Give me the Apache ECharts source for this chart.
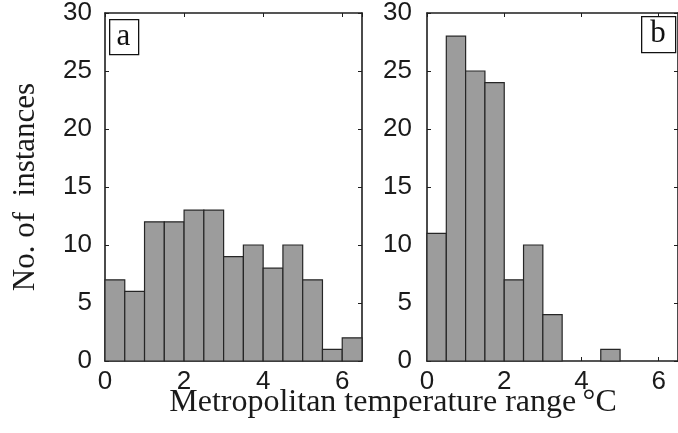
<!DOCTYPE html>
<html>
<head>
<meta charset="utf-8">
<script src="https://cdn.jsdelivr.net/npm/echarts@6/dist/echarts.min.js"></script>
<style>
  html, body { margin: 0; padding: 0; background: #fff; }
  #chart { width: 678px; height: 433px; }
</style>
</head>
<body>
<div id="chart"></div>
<script>
// Histogram bins (°C)
const binLeft  = [0, 0.5, 1.0, 1.5, 2.0, 2.5, 3.0, 3.5, 4.0, 4.5, 5.0, 5.5, 6.0];
const binRight = [0.5, 1.0, 1.5, 2.0, 2.5, 3.0, 3.5, 4.0, 4.5, 5.0, 5.5, 6.0, 6.5];
// Counts per bin
const countsA = [7, 6, 12, 12, 13, 13, 9, 10, 8, 10, 7, 1, 2];
const countsB = [11, 28, 25, 24, 7, 10, 4, 0, 0, 1, 0, 0, 0];
// Tick labels
const xTicks = [0, 2, 4, 6];
const yTicks = [0, 5, 10, 15, 20, 25, 30];
const panelLabels = ['a', 'b'];
const xTitle = 'Metropolitan temperature range\u2009°C';
const yTitle = 'No. of  instances';

const chart = echarts.init(document.getElementById('chart'), null, { renderer: 'canvas' });

const sansFont = '"Liberation Sans", Arial, Helvetica, sans-serif';
const serifFont = '"Liberation Serif", "Times New Roman", Times, serif';
const axisColor = '#1e1e1e';

function makeData(counts) {
  return counts.map((c, i) => [binLeft[i], binRight[i], c]);
}

function renderBar(params, api) {
  const v = api.value(2);
  if (!v) return null;
  const p0 = api.coord([api.value(0), v]);
  const p1 = api.coord([api.value(1), 0]);
  return {
    type: 'rect',
    shape: { x: p0[0], y: p0[1], width: p1[0] - p0[0], height: p1[1] - p0[1] },
    style: { fill: '#9c9c9c', stroke: '#262626', lineWidth: 1.2 }
  };
}

function xAxisDef(gridIndex, position, showLabels) {
  return {
    type: 'value', gridIndex, position, min: 0, max: 6.5, interval: 2,
    axisLine: { show: true, onZero: false, lineStyle: { color: axisColor, width: 1.6 } },
    axisTick: { show: true, inside: true, length: 4, lineStyle: { color: axisColor, width: 1 } },
    axisLabel: {
      show: showLabels, showMaxLabel: false, margin: 8,
      fontFamily: sansFont, fontSize: 26, color: '#1a1a1a',
      formatter: v => (xTicks.indexOf(v) >= 0 ? String(v) : '')
    },
    splitLine: { show: false }
  };
}

function yAxisDef(gridIndex, position, showLabels, margin) {
  return {
    type: 'value', gridIndex, position, min: 0, max: 30, interval: 5,
    axisLine: { show: true, onZero: false, lineStyle: { color: axisColor, width: 1.6 } },
    axisTick: { show: true, inside: true, length: 4, lineStyle: { color: axisColor, width: 1 } },
    axisLabel: {
      show: showLabels, margin: margin,
      fontFamily: sansFont, fontSize: 26, color: '#1a1a1a',
      formatter: v => (yTicks.indexOf(v) >= 0 ? String(v) : '')
    },
    splitLine: { show: false }
  };
}

const option = {
  backgroundColor: '#ffffff',
  animation: false,
  grid: [
    { left: 105, right: 316, top: 13, bottom: 72, containLabel: false },
    { left: 427, right: -5, top: 13, bottom: 72, containLabel: false }
  ],
  xAxis: [
    xAxisDef(0, 'bottom', true),
    xAxisDef(0, 'top', false),
    xAxisDef(1, 'bottom', true),
    xAxisDef(1, 'top', false)
  ],
  yAxis: [
    yAxisDef(0, 'left', true, 13),
    yAxisDef(0, 'right', false, 8),
    yAxisDef(1, 'left', true, 15),
    yAxisDef(1, 'right', false, 8)
  ],
  series: [
    { type: 'custom', xAxisIndex: 0, yAxisIndex: 0, renderItem: renderBar, data: makeData(countsA), clip: false },
    { type: 'custom', xAxisIndex: 2, yAxisIndex: 2, renderItem: renderBar, data: makeData(countsB), clip: false }
  ],
  graphic: [
    {
      type: 'rect', left: 109, top: 19, z: 100,
      shape: { width: 29, height: 35 },
      style: { fill: '#fff', stroke: '#111', lineWidth: 1.3 }
    },
    {
      type: 'text', x: 123.5, y: 36.5, z: 101,
      style: { text: panelLabels[0], font: '31px ' + serifFont, fill: '#111', align: 'center', verticalAlign: 'middle' }
    },
    {
      type: 'rect', left: 641, top: 16, z: 100,
      shape: { width: 34, height: 36 },
      style: { fill: '#fff', stroke: '#111', lineWidth: 1.3 }
    },
    {
      type: 'text', x: 658, y: 34, z: 101,
      style: { text: panelLabels[1], font: '31px ' + serifFont, fill: '#111', align: 'center', verticalAlign: 'middle' }
    },
    {
      type: 'text', x: 393, y: 403, z: 101,
      style: { text: xTitle, font: '32px ' + serifFont, fill: '#1a1a1a', align: 'center', verticalAlign: 'middle' }
    },
    {
      type: 'text', x: 26, y: 187, rotation: Math.PI / 2, z: 101,
      style: { text: yTitle, font: '31px ' + serifFont, fill: '#1a1a1a', align: 'center', verticalAlign: 'middle' }
    }
  ]
};

chart.setOption(option);
</script>
</body>
</html>
